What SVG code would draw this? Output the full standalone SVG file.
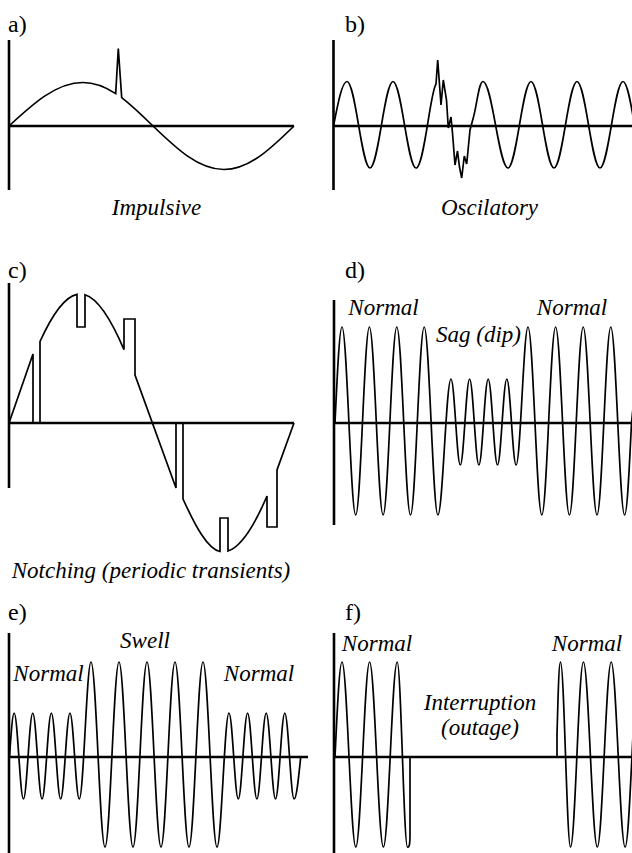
<svg xmlns="http://www.w3.org/2000/svg" width="632" height="853" viewBox="0 0 632 853">
<style>
.axis{stroke:#000;stroke-width:2.6;fill:none}
.wave{stroke:#000;stroke-width:1.7;fill:none;stroke-linejoin:miter}
.lab{font-size:24px;fill:#000}
.cap{font-size:23px;font-style:italic;fill:#000;text-anchor:middle}
</style>
<rect width="632" height="853" fill="#fff"/>

<g id="panel-a" font-family="Liberation Serif, Tinos, FreeSerif, DejaVu Serif, serif">
<text class="lab" x="8" y="32">a)</text>
<path class="axis" d="M9,40 V190 M9,126 H294"/>
<path class="wave" d="M9,126 c 24.1,-22.3 47.2,-43.5 74,-43.5 C93.6,82.5 104.8,86.5 115.7,93.6 L118.3,48.5 L121.7,97.6 C132.1,105.7 142.6,115.8 153,126 c 23.2,22.3 45.3,43.5 71,43.5 c 25.3,0 47.2,-21.2 70,-43.5"/>
<text class="cap" x="156.5" y="215">Impulsive</text>
</g>

<g id="panel-b" font-family="Liberation Serif, Tinos, FreeSerif, DejaVu Serif, serif">
<text class="lab" x="345" y="32">b)</text>
<path class="axis" d="M333.5,40 V190 M333.5,126 H632"/>
<path class="wave" d="M333.5,126 c 4.4,-22.8 8.6,-44.5 13.5,-44.5 c 8.37,0 14.63,86.5 23,86.5 s 14.63,-86.5 23,-86.5 s 14.63,86.5 23,86.5 C424,168 430,93 436,84 L437.7,60 L441,105 L443.3,80 L446.5,100 L448.3,128 L451,117 L452.5,133 L455,165 L457.5,151 L459.5,167 L461.7,178 L464.3,156 L466.7,164 L470,130 L473.5,117 C477,104 479,81.5 483,81.5 c 9.1,0 15.9,86.5 25,86.5 c 8.37,0 14.630,-86.5 23,-86.5 s 14.63,86.5 23,86.5 s 14.63,-86.5 23,-86.5 s 14.63,86.5 23,86.5 s 14.63,-86.5 23,-86.5 s 14.63,86.5 23,86.5"/>
<text class="cap" x="489.5" y="215">Oscilatory</text>
</g>

<g id="panel-c" font-family="Liberation Serif, Tinos, FreeSerif, DejaVu Serif, serif">
<text class="lab" x="8" y="278">c)</text>
<path class="axis" d="M9,283 V488 M9,423 H294"/>
<path class="wave" d="M9,423 L33,354 L33,423 L40,423 L40,341.5 C52.33,314.3 64.67,296.8 77,294.3 L77,327 L85,327 L85,294.7 C98,298.6 111,319.2 124,349.6 L124,319 L135,319 L135,375 L176,488 L176,423 L183,423 L183,499 C195.3,526 207.7,549.4 220,551.5 L220,518 L228,518 L228,551 C241,546.7 254,526.5 267,496 L267,527 L277,527 L277,470 L294,423"/>
<text class="cap" x="151" y="578">Notching (periodic transients)</text>
</g>

<g id="panel-d" font-family="Liberation Serif, Tinos, FreeSerif, DejaVu Serif, serif">
<text class="lab" x="345" y="278">d)</text>
<path class="axis" d="M334,300 V525 M334,423 H632"/>
<path class="wave" d="M335,423 c 2.28,-49.2 4.47,-96 7,-96 c 4.99,0 8.71,188 13.7,188 s 8.71,-188 13.7,-188 s 8.71,188 13.7,188 s 8.71,-188 13.7,-188 s 8.71,188 13.7,188 s 8.71,-188 13.7,-188 s 8.71,188 13.7,188 c 4.77,0 8.33,-136 13.1,-136 c 3.39,0 5.91,86 9.3,86 s 5.91,-86 9.3,-86 s 5.91,86 9.3,86 s 5.91,-86 9.3,-86 s 5.91,86 9.3,86 s 5.91,-86 9.3,-86 s 5.91,86 9.3,86 c 4.33,0 7.57,-138 11.9,-138 c 5.02,0 8.78,188 13.8,188 s 8.78,-188 13.8,-188 s 8.78,188 13.8,188 s 8.78,-188 13.8,-188 s 8.78,188 13.8,188 s 8.78,-188 13.8,-188 s 8.78,188 13.8,188 c 2.5,0 4.65,-44.9 6.9,-92 l 3,-30"/>
<text class="cap" x="383.5" y="315">Normal</text>
<text class="cap" x="478.5" y="342">Sag (dip)</text>
<text class="cap" x="572" y="315">Normal</text>
</g>

<g id="panel-e" font-family="Liberation Serif, Tinos, FreeSerif, DejaVu Serif, serif">
<text class="lab" x="8" y="620">e)</text>
<path class="axis" d="M9,633 V853 M9,757 H308"/>
<path class="wave" d="M9.5,757 c 1.52,-22.5 2.97,-44 4.65,-44 c 3.39,0 5.91,86 9.3,86 s 5.91,-86 9.3,-86 s 5.91,86 9.3,86 s 5.91,-86 9.3,-86 s 5.91,86 9.3,86 s 5.91,-86 9.3,-86 s 5.91,86 9.3,86 c 4.28,0 7.47,-137 11.75,-137 c 5.1,0 8.9,185 14,185 s 8.9,-185 14,-185 s 8.9,185 14,185 s 8.9,-185 14,-185 s 8.9,185 14,185 s 8.9,-185 14,-185 s 8.9,185 14,185 s 8.9,-185 14,-185 s 8.9,185 14,185 c 4.37,0 7.63,-134 12,-134 c 3.39,0 5.91,86 9.3,86 s 5.91,-86 9.3,-86 s 5.91,86 9.3,86 s 5.91,-86 9.3,-86 s 5.91,86 9.3,86 s 5.91,-86 9.3,-86 s 5.91,86 9.3,86 c 2.39,0 4.45,-20.5 6.6,-42"/>
<text class="cap" x="145" y="648">Swell</text>
<text class="cap" x="48.5" y="681">Normal</text>
<text class="cap" x="259" y="681">Normal</text>
</g>

<g id="panel-f" font-family="Liberation Serif, Tinos, FreeSerif, DejaVu Serif, serif">
<text class="lab" x="345" y="620">f)</text>
<path class="axis" d="M334,633 V853 M334,757 H632"/>
<path class="wave" d="M335,757 c 2.28,-48.7 4.47,-95 7,-95 c 5.02,0 8.78,185 13.8,185 s 8.78,-185 13.8,-185 s 8.78,185 13.8,185 s 8.78,-185 13.8,-185 c 3.75,0 6.55,185 10.3,185 C409,848 410,845 410,835 L410,757"/>
<path class="wave" d="M557,757 L557,735 C558,700 558.8,662 560.5,662 c 3.64,0 6.36,185 10,185 c 4.7,0 8.2,-185 12.9,-185 c 5.06,0 8.84,185 13.9,185 s 8.84,-185 13.9,-185 s 8.84,185 13.9,185 s 8.84,-185 13.9,-185"/>
<text class="cap" x="377" y="651">Normal</text>
<text class="cap" x="587" y="651">Normal</text>
<text class="cap" x="480" y="710">Interruption</text>
<text class="cap" x="480" y="735">(outage)</text>
</g>
</svg>
